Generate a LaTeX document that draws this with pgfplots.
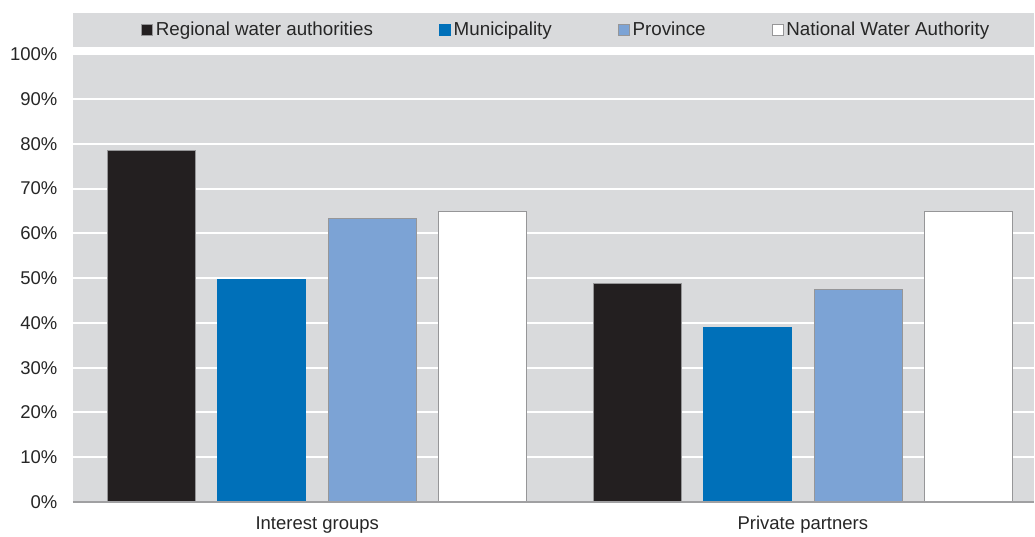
\documentclass[border=0pt]{standalone}
\usepackage{fontspec}
\setmainfont{Liberation Sans}
\usepackage{pgfplots}
\pgfplotsset{compat=1.18}

\definecolor{plotgrey}{RGB}{217,218,220}
\definecolor{regblack}{RGB}{35,31,32}
\definecolor{munblue}{RGB}{0,112,185}
\definecolor{provblue}{RGB}{124,163,213}
\definecolor{edgegrey}{RGB}{150,150,152}
\definecolor{axisgrey}{RGB}{160,160,162}
\definecolor{txt}{RGB}{38,38,38}

\pgfplotsset{
  sq/.style={legend image code/.code={\draw[##1, line width=0.8pt] (0pt,-5.5pt) rectangle (11pt,5.5pt);}},
}

\begin{document}
\begin{tikzpicture}
\begin{axis}[
    at={(0,0)}, anchor=south west,
    scale only axis,
    width=962pt, height=448pt,
    xmin=-0.503, xmax=1.476,
    ymin=0, ymax=100,
    xtick={0,1},
    xticklabels={Interest groups, Private partners},
    ytick={0,10,...,100},
    yticklabel={\pgfmathprintnumber{\tick}\%},
    /pgf/number format/assume math mode=true,
    ticklabel style={font=\fontsize{18.5}{22}\selectfont, text=txt},
    xticklabel style={yshift=-11pt},
    yticklabel style={xshift=-12pt},
    major tick length=0pt,
    axis line style={draw=none},
    axis background/.style={fill=plotgrey},
    ymajorgrids,
    grid style={white, line width=2pt},
    clip=false,
    legend columns=4,
    legend style={
      at={(0.0707,1.0551)}, anchor=west,
      draw=none, fill=none, inner sep=0pt,
      font=\fontsize{18.8}{22}\selectfont, text=txt,
      nodes={inner sep=0pt},
      /tikz/every odd column/.append style={column sep=3pt},
      /tikz/every even column/.append style={column sep=66pt},
    },
  ]
  \fill[plotgrey] (rel axis cs:0,1.0172) rectangle (rel axis cs:1,1.0931);

  \addplot[ybar, bar width=0.181, bar shift=-0.3405, fill=regblack, draw=edgegrey, line width=1.2pt, sq]
    coordinates {(0,78.6) (1,48.8)};
  \addlegendentry{Regional water authorities}
  \addplot[ybar, bar width=0.181, bar shift=-0.1142, fill=munblue, draw=munblue, line width=1.2pt, sq]
    coordinates {(0,49.6) (1,39.0)};
  \addlegendentry{Municipality}
  \addplot[ybar, bar width=0.181, bar shift=0.1142, fill=provblue, draw=edgegrey, line width=1.2pt, sq]
    coordinates {(0,63.3) (1,47.5)};
  \addlegendentry{Province}
  \addplot[ybar, bar width=0.181, bar shift=0.3405, fill=white, draw=edgegrey, line width=1.2pt, sq]
    coordinates {(0,64.8) (1,64.8)};
  \addlegendentry{National Water Authority}

  \draw[axisgrey, line width=2pt] (rel axis cs:0,0) -- (rel axis cs:1,0);
\end{axis}
\path (-73pt,-31.6pt) rectangle (962pt,502.4pt);
\end{tikzpicture}
\end{document}
